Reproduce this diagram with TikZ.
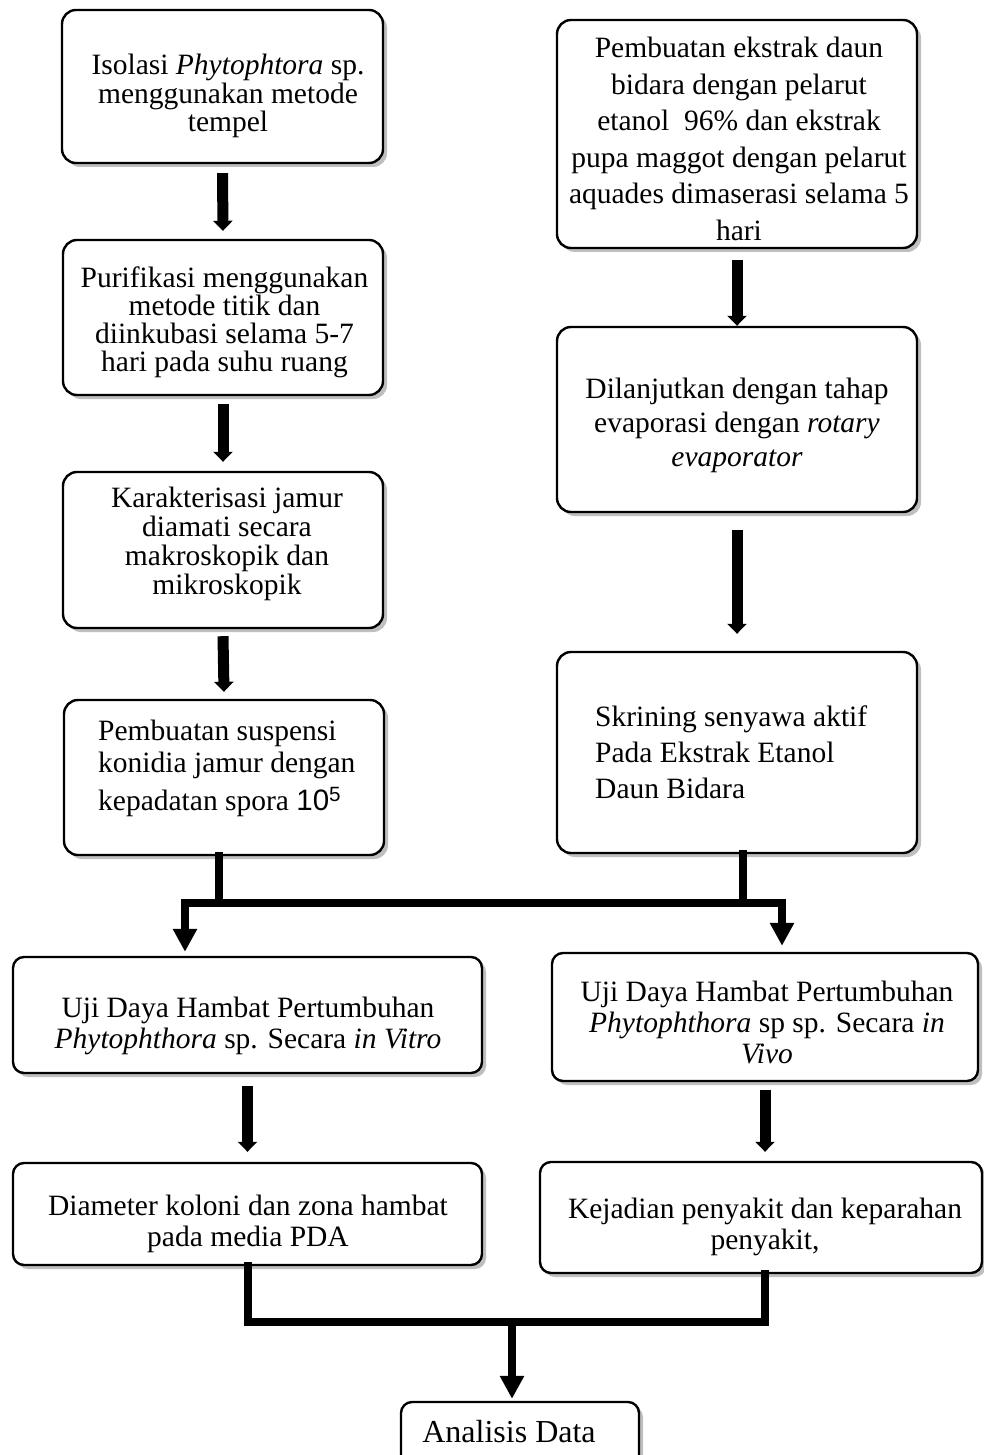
\documentclass[tikz,border=0pt]{standalone}
\usepackage{fontspec}
\setmainfont{Liberation Serif}
\newfontfamily\numfont{Liberation Sans}
\usetikzlibrary{arrows.meta,shadows,calc}
\begin{document}
\begin{tikzpicture}[x=1pt,y=-1pt,
  box/.style={draw=black, line width=2.4pt, rounded corners=14pt, fill=white, inner sep=0pt,
    drop shadow={shadow xshift=4pt, shadow yshift=-4pt, fill=black!45, opacity=0.55}},
  sbox/.style={box, rounded corners=11pt},
  txt/.style={align=center, inner sep=0pt, font=\fontsize{29.5}{#1}\selectfont},
  txt/.default=30,
  ltxt/.style={txt=#1, align=left, anchor=west},
  sarr/.style={line width=11pt, -{Triangle[width=19pt,length=10pt]}},
  marr/.style={line width=8pt, -{Triangle[width=23pt,length=23pt]}},
  bar/.style={line width=8pt, line cap=rect}]
\fill[white] (0,0) rectangle (984,1455);
\useasboundingbox (0,0) rectangle (984,1455);

% left column boxes
\node[box, minimum width=321pt, minimum height=153pt] (iso) at (222.5,86.5) {};
\node[box, minimum width=320pt, minimum height=155pt] (pur) at (223,317.5) {};
\node[box, minimum width=320pt, minimum height=156pt] (kar) at (223,550) {};
\node[box, minimum width=320pt, minimum height=155pt] (sus) at (224,777.5) {};
% right column boxes
\node[box, minimum width=360pt, minimum height=228pt] (eks) at (737,134) {};
\node[box, minimum width=360pt, minimum height=185pt] (dil) at (737,419.5) {};
\node[box, minimum width=360pt, minimum height=201pt] (skr) at (737,752.5) {};
% lower boxes
\node[sbox, minimum width=469pt, minimum height=116pt] (vitro) at (247.5,1015) {};
\node[sbox, minimum width=426pt, minimum height=128pt] (vivo) at (765,1017) {};
\node[sbox, minimum width=469pt, minimum height=102pt] (diam) at (247.5,1214) {};
\node[sbox, minimum width=442pt, minimum height=111pt] (kej) at (761,1217.5) {};
\node[sbox, minimum width=238pt, minimum height=78pt] (ana) at (520,1441) {};

% texts
\node[txt=28.5] (tiso) at (228,96) {Isolasi \textit{Phytophtora} sp.\\menggunakan metode\\tempel};
\node[txt=28] (tpur) at (224.5,322) {Purifikasi menggunakan\\metode titik dan\\diinkubasi selama 5-7\\hari pada suhu ruang};
\node[txt=29] (tkar) at (227,544) {Karakterisasi jamur\\diamati secara\\makroskopik dan\\mikroskopik};
\node[ltxt=32] (tsus) at (98,768) {Pembuatan suspensi\\konidia jamur dengan\\[6pt]kepadatan spora {\numfont 10}\textsuperscript{\numfont 5}};
\node[txt=36.6] (teks) at (739,139) {Pembuatan ekstrak daun\\bidara dengan pelarut\\etanol\ \ 96\% dan ekstrak\\pupa maggot dengan pelarut\\aquades dimaserasi selama 5\\hari};
\node[txt=34] (tdil) at (737,425) {Dilanjutkan dengan tahap\\evaporasi dengan \textit{rotary}\\\textit{evaporator}};
\node[ltxt=36] (tskr) at (595,752) {Skrining senyawa aktif\\Pada Ekstrak Etanol\\Daun Bidara};
\node[txt=31] (tvitro) at (248,1026) {Uji Daya Hambat Pertumbuhan\\\textit{Phytophthora} sp. Secara \textit{in Vitro}};
\node[txt=31] (tvivo) at (767,1022) {Uji Daya Hambat Pertumbuhan\\\textit{Phytophthora} sp sp. Secara \textit{in}\\\textit{Vivo}};
\node[txt=31] (tdiam) at (248,1224) {Diameter koloni dan zona hambat\\pada media PDA};
\node[txt=31] (tkej) at (765,1227) {Kejadian penyakit dan keparahan\\penyakit,};
\node[txt, font=\fontsize{32}{34}\selectfont] (tana) at (509,1432) {Analisis Data};

% straight arrows
\draw[sarr] ($(iso.south)+(0,9)$) -- ($(pur.north)+(0,-8)$);
\draw[sarr] ($(pur.south)+(0,8)$) -- ($(kar.north)+(0,-9)$);
\draw[sarr] ($(kar.south)+(0,7)$) -- ($(sus.north)+(0,-7)$);
\draw[sarr] ($(eks.south)+(0,11)$) -- (dil.north);
\draw[sarr] ($(dil.south)+(0,17)$) -- ($(skr.north)+(0,-17)$);
\draw[sarr] ($(vitro.south)+(0,12)$) -- ($(diam.north)+(0,-10)$);
\draw[sarr] ($(vivo.south)+(0,8)$) -- ($(kej.north -| vivo.south)+(0,-9)$);

% upper merge
\coordinate (jL) at (219,903);
\coordinate (jR) at (743,903);
\coordinate (bL) at (185,903);
\coordinate (bR) at (782,903);
\draw[bar] (sus.south -| jL) -- (jL);
\draw[bar] (skr.south -| jR) -- (jR);
\draw[bar] (bL) -- (bR);
\draw[marr] (bL) -- ($(vitro.north -| bL)+(0,-4)$);
\draw[marr] (bR) -- ($(vivo.north -| bR)+(0,-6)$);

% lower merge
\coordinate (kL) at (247.5,1322);
\coordinate (kR) at (765,1322);
\coordinate (kM) at (512,1322);
\draw[bar] (diam.south -| kL) -- (kL);
\draw[bar] (kej.south -| kR) -- (kR);
\draw[bar] (kL) -- (kR);
\draw[marr] (kM) -- ($(ana.north -| kM)+(0,-2)$);
\end{tikzpicture}
\end{document}
